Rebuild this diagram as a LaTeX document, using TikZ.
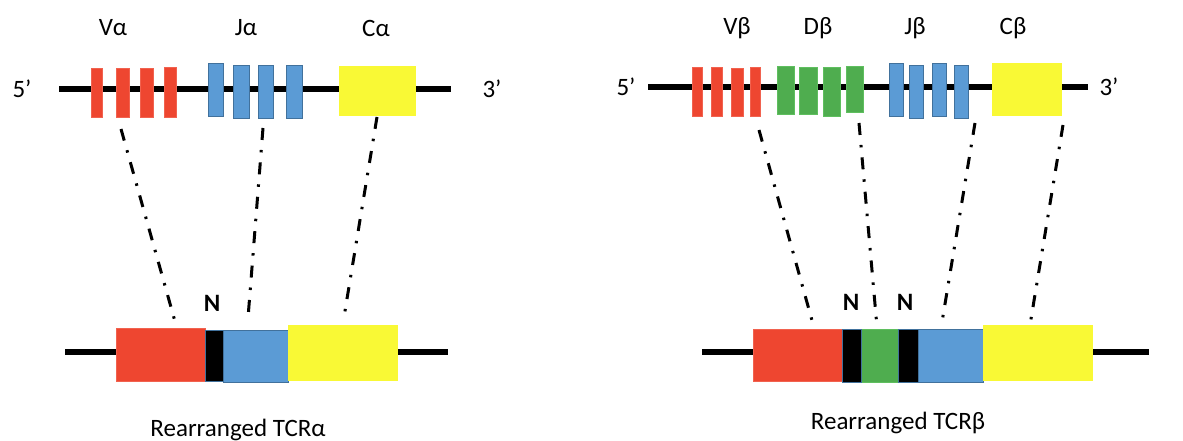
\documentclass[tikz,border=0pt]{standalone}
\usepackage{fontspec}
\setmainfont{Carlito}
\usetikzlibrary{fit}
\definecolor{segred}{HTML}{EE4630}
\definecolor{segblue}{HTML}{5B9BD5}
\definecolor{blueedge}{HTML}{41719C}
\definecolor{seggreen}{HTML}{4FAD4F}
\definecolor{greenedge}{HTML}{5FBF5F}
\definecolor{segyellow}{HTML}{F9F935}
\begin{document}
\begin{tikzpicture}[x=1pt,y=-1pt,
  seg/.style={rectangle, inner sep=0pt, outer sep=0pt},
  redseg/.style={seg, fill=segred, draw=segred!85!white, line width=0.6pt},
  blueseg/.style={seg, fill=segblue, draw=blueedge, line width=1pt},
  greenseg/.style={seg, fill=seggreen, draw=greenedge, line width=0.6pt},
  yellowseg/.style={seg, fill=segyellow},
  nseg/.style={seg, fill=black, draw=blueedge, line width=1pt},
  dna/.style={line width=6pt},
  dashdot/.style={line width=3pt, dash pattern=on 12pt off 10pt on 2.5pt off 10pt},
  lab/.style={inner sep=0pt, font=\fontsize{25}{30}\selectfont},
  nlab/.style={inner sep=0pt, font=\fontsize{25}{30}\selectfont\bfseries}]
\useasboundingbox (0,0) rectangle (1183,441);

% ---------- alpha locus ----------
\coordinate (La1) at (59,89); \coordinate (La2) at (451,89);
\draw[dna] (La1) -- (La2);
\node[redseg, fit={(91,68)(102,117)}] (va1) {};
\node[redseg, fit={(116,68)(129,117)}] (va2) {};
\node[redseg, fit={(140,68)(153,117)}] (va3) {};
\node[redseg, fit={(164,67)(176,117)}] (va4) {};
\node[blueseg, fit={(208,64)(223,117)}] (ja1) {};
\node[blueseg, fit={(233,66)(249,119)}] (ja2) {};
\node[blueseg, fit={(258,66)(273,119)}] (ja3) {};
\node[blueseg, fit={(286,66)(302,119)}] (ja4) {};
\node[yellowseg, fit={(339,66)(416,116)}] (ca) {};
\node[lab] (lva) at (113,28) {Vα};
\node[lab] (lja) at (246,28) {Jα};
\node[lab] (lca) at (376,28) {Cα};
\node[lab] (a5) at (22,89) {5’};
\node[lab] (a3) at (492,89) {3’};

% rearranged alpha
\coordinate (Ra1) at (65,352); \coordinate (Ra2) at (448,352);
\draw[dna] (Ra1) -- (Ra2);
\node[redseg, fit={(116,328)(205,381)}] (rva) {};
\node[blueseg, fit={(223,330)(288,382)}] (rja) {};
\node[nseg, fit={(205,330)(223,381)}] (rna) {};
\node[yellowseg, fit={(288,325)(398,381)}] (rca) {};
\node[nlab] (na) at (212,303) {N};
\node[lab] (ta) at (238,430) {Rearranged TCRα};

\coordinate (da1s) at (121,129); \coordinate (da1e) at (176,325);
\coordinate (da2s) at (263,128); \coordinate (da2e) at (248,318);
\coordinate (da3s) at (377,117); \coordinate (da3e) at (344,317);
\draw[dashdot] (da1s) -- (da1e);
\draw[dashdot] (da2s) -- (da2e);
\draw[dashdot] (da3s) -- (da3e);

% ---------- beta locus ----------
\coordinate (Lb1) at (648,87); \coordinate (Lb2) at (1088,87);
\draw[dna] (Lb1) -- (Lb2);
\node[redseg, fit={(692,67)(702,116)}] (vb1) {};
\node[redseg, fit={(711,67)(722,116)}] (vb2) {};
\node[redseg, fit={(731,68)(743,116)}] (vb3) {};
\node[redseg, fit={(750,67)(760,116)}] (vb4) {};
\node[greenseg, fit={(777,66)(794,114)}] (db1) {};
\node[greenseg, fit={(799,67)(817,114)}] (db2) {};
\node[greenseg, fit={(823,67)(840,116)}] (db3) {};
\node[greenseg, fit={(846,66)(863,112)}] (db4) {};
\node[blueseg, fit={(889,64)(903,117)}] (jb1) {};
\node[blueseg, fit={(909,66)(923,119)}] (jb2) {};
\node[blueseg, fit={(932,64)(946,117)}] (jb3) {};
\node[blueseg, fit={(954,66)(968,119)}] (jb4) {};
\node[yellowseg, fit={(992,63)(1062,116)}] (cb) {};
\node[lab] (lvb) at (737,28) {Vβ};
\node[lab] (ldb) at (818,28) {Dβ};
\node[lab] (ljb) at (915,28) {Jβ};
\node[lab] (lcb) at (1013,28) {Cβ};
\node[lab] (b5) at (626,87) {5’};
\node[lab] (b3) at (1109,87) {3’};

% rearranged beta
\coordinate (Rb1) at (702,352); \coordinate (Rb2) at (1149,352);
\draw[dna] (Rb1) -- (Rb2);
\node[redseg, fit={(753,329)(842,381)}] (rvb) {};
\node[greenseg, fit={(861,329)(898,382)}] (rdb) {};
\node[blueseg, fit={(918,329)(983,382)}] (rjb) {};
\node[nseg, fit={(842,329)(861,382)}] (rnb1) {};
\node[nseg, fit={(898,329)(918,382)}] (rnb2) {};
\node[yellowseg, fit={(983,325)(1093,381)}] (rcb) {};
\node[nlab] (nb1) at (851,302) {N};
\node[nlab] (nb2) at (905,302) {N};
\node[lab] (tb) at (898,423) {Rearranged TCRβ};

\coordinate (db1s) at (759,130); \coordinate (db1e) at (813,324);
\coordinate (db2s) at (859,123); \coordinate (db2e) at (877,327);
\coordinate (db3s) at (975,123); \coordinate (db3e) at (942,322);
\coordinate (db4s) at (1063,125); \coordinate (db4e) at (1030,325);
\draw[dashdot] (db1s) -- (db1e);
\draw[dashdot] (db2s) -- (db2e);
\draw[dashdot] (db3s) -- (db3e);
\draw[dashdot] (db4s) -- (db4e);
\end{tikzpicture}
\end{document}
